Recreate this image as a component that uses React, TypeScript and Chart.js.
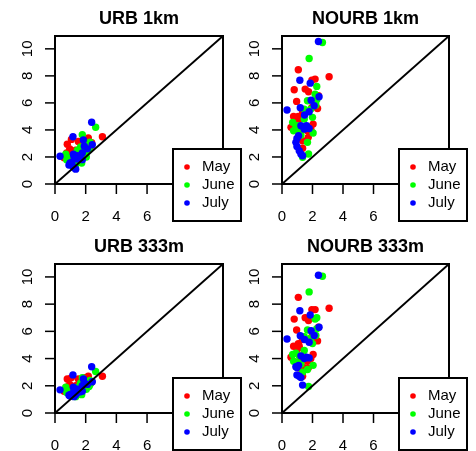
import React, { useEffect, useRef } from "react";
import { Chart, registerables } from "chart.js";
Chart.register(...registerables);

const MONTHS = ["May", "June", "July"];
const COLORS = ["#FF0000", "#00FF00", "#0000FF"];
const AXIS_TICKS = [0, 2, 4, 6, 8, 10];
const AXIS_MAX = 10.95;

// shared x values (observations) per month
const MAY_X = [1.07, 3.09, 1.96, 2.17, 0.8, 1.52, 1.74, 2.39, 0.96, 2.33, 1.35, 0.76, 1.07, 1.02, 2.04, 1.89, 1.13, 1.13, 1.35, 1.35, 1.72, 0.59, 1.13, 1.96, 1.67];
const JUNE_X = [2.65, 1.78, 2.28, 2.17, 2.28, 2.22, 1.46, 2.0, 0.7, 0.91, 2.04, 0.76, 1.02, 1.74, 1.35, 1.67, 1.46, 1.24, 1.89, 1.13, 1.67];
const JULY_X = [2.39, 1.17, 1.85, 2.43, 1.91, 0.33, 1.2, 1.78, 1.48, 1.24, 1.61, 1.78, 0.98, 0.91, 0.98, 1.13, 1.24, 1.35, 1.46, 1.09, 2.11];

// URB 1km
const URB1KM_MAY = [3.3, 3.5, 3.3, 3.4, 2.95, 3.15, 2.9, 3.05, 2.6, 2.8, 2.5, 2.3, 2.15, 2.0, 2.4, 2.1, 1.75, 1.6, 1.7, 1.5, 1.9, 1.95, 2.2, 2.6, 1.95];
const URB1KM_JUNE = [4.2, 3.65, 3.1, 3.0, 2.8, 2.6, 2.5, 2.3, 2.2, 1.9, 2.0, 1.8, 1.7, 1.55, 1.45, 2.75, 2.1, 1.6, 2.5, 2.0, 1.65];
const URB1KM_JULY = [4.57, 3.5, 3.25, 2.9, 2.8, 2.05, 2.2, 2.3, 2.1, 2.0, 1.9, 1.8, 1.55, 1.4, 1.45, 1.35, 1.2, 1.1, 1.85, 1.6, 2.6];

// NOURB 1km
const NOURB1KM_MAY = [8.45, 7.93, 7.68, 7.76, 6.97, 7.02, 6.82, 6.53, 6.11, 5.59, 5.34, 5.0, 5.0, 4.68, 4.43, 4.06, 3.82, 3.37, 3.2, 2.64, 3.45, 4.19, 4.8, 5.66, 3.94];
const NOURB1KM_JUNE = [10.47, 9.29, 7.22, 6.65, 6.23, 5.84, 5.54, 4.93, 4.56, 4.31, 3.77, 3.94, 4.06, 2.22, 1.97, 6.16, 4.8, 3.62, 5.54, 4.31, 3.08];
const NOURB1KM_JULY = [10.54, 7.68, 7.46, 6.45, 6.2, 5.47, 5.64, 5.34, 5.1, 4.31, 4.31, 4.11, 3.37, 3.08, 2.78, 2.46, 2.22, 2.09, 4.06, 3.57, 5.79];

// URB 333m
const URB333M_MAY = [2.6, 2.7, 2.6, 2.7, 2.5, 2.5, 2.4, 2.3, 2.1, 2.2, 2.0, 1.9, 1.8, 1.7, 2.0, 1.8, 1.5, 1.4, 1.45, 1.3, 1.6, 1.6, 1.8, 2.1, 1.6];
const URB333M_JUNE = [3.05, 2.6, 2.4, 2.3, 2.1, 1.95, 1.9, 1.8, 1.9, 1.6, 1.75, 1.5, 1.35, 1.35, 1.2, 2.2, 1.7, 1.3, 1.95, 1.6, 1.4];
const URB333M_JULY = [3.4, 2.8, 2.5, 2.3, 2.2, 1.7, 1.9, 2.0, 1.75, 1.6, 1.55, 1.6, 1.35, 1.3, 1.25, 1.3, 1.2, 1.35, 1.5, 1.4, 2.1];

// NOURB 333m
const NOURB333M_MAY = [8.5, 7.7, 7.6, 7.6, 6.9, 7.0, 6.8, 6.3, 6.1, 5.3, 5.4, 4.9, 5.1, 4.7, 4.3, 4.0, 3.8, 3.3, 3.4, 2.7, 3.3, 4.1, 4.9, 5.6, 3.8];
const NOURB333M_JUNE = [10.05, 8.9, 7.0, 6.9, 6.2, 5.7, 5.6, 5.1, 4.3, 4.4, 3.5, 3.8, 3.7, 1.95, 3.0, 6.1, 4.6, 3.6, 5.5, 4.2, 3.2];
const NOURB333M_JULY = [10.12, 7.51, 7.2, 6.3, 6.05, 5.44, 5.68, 5.2, 5.4, 4.2, 4.1, 4.05, 3.35, 3.4, 2.8, 2.7, 2.6, 2.05, 4.0, 3.5, 5.7];

const TITLES = ["URB 1km", "NOURB 1km", "URB 333m", "NOURB 333m"];
const SERIES_X = [MAY_X, JUNE_X, JULY_X];
const SERIES_Y = [
  [URB1KM_MAY, URB1KM_JUNE, URB1KM_JULY],
  [NOURB1KM_MAY, NOURB1KM_JUNE, NOURB1KM_JULY],
  [URB333M_MAY, URB333M_JUNE, URB333M_JULY],
  [NOURB333M_MAY, NOURB333M_JUNE, NOURB333M_JULY],
];

const W = 476;
const H = 451;
// plot boxes: left, top, right, bottom
const BOXES = [
  [55, 36, 223, 184],
  [282, 36, 449, 184],
  [55, 264, 223, 413],
  [282, 264, 449, 413],
];

const FONT = "'Liberation Sans', Arial, Helvetica, sans-serif";

const decorPlugin = (title: string) => ({
  id: "rdecor",
  afterDraw(chart: any) {
    const ctx = chart.ctx;
    const { left, top, right, bottom } = chart.chartArea;
    const xs = chart.scales.x;
    const ys = chart.scales.y;
    ctx.save();
    ctx.strokeStyle = "#000";
    ctx.fillStyle = "#000";
    ctx.lineWidth = 2;
    ctx.strokeRect(left, top, right - left, bottom - top);
    ctx.lineWidth = 1.5;
    ctx.font = `15px ${FONT}`;
    // x axis
    ctx.textAlign = "center";
    ctx.textBaseline = "middle";
    for (const t of AXIS_TICKS) {
      const px = xs.getPixelForValue(t);
      ctx.beginPath();
      ctx.moveTo(px, bottom);
      ctx.lineTo(px, bottom + 10);
      ctx.stroke();
      ctx.fillText(String(t), px, bottom + 33);
    }
    // y axis
    for (const t of AXIS_TICKS) {
      const py = ys.getPixelForValue(t);
      ctx.beginPath();
      ctx.moveTo(left - 10, py);
      ctx.lineTo(left, py);
      ctx.stroke();
      ctx.save();
      ctx.translate(left - 27, py);
      ctx.rotate(-Math.PI / 2);
      ctx.fillText(String(t), 0, 0);
      ctx.restore();
    }
    // title
    ctx.font = `bold 18px ${FONT}`;
    ctx.textBaseline = "alphabetic";
    ctx.fillText(title, (left + right) / 2, top - 12);
    // legend
    const bx = right - 50;
    const by = bottom - 35;
    const bw = 68;
    const bh = 72;
    ctx.fillStyle = "#fff";
    ctx.fillRect(bx, by, bw, bh);
    ctx.lineWidth = 2;
    ctx.strokeRect(bx, by, bw, bh);
    ctx.font = `15px ${FONT}`;
    ctx.textAlign = "left";
    ctx.textBaseline = "middle";
    MONTHS.forEach((m, i) => {
      const cy = by + 18 + i * 18;
      ctx.fillStyle = COLORS[i];
      ctx.beginPath();
      ctx.arc(bx + 14, cy, 2.8, 0, Math.PI * 2);
      ctx.fill();
      ctx.fillStyle = "#000";
      ctx.fillText(m, bx + 29, cy);
    });
    ctx.restore();
  },
});

function Panel({ index }: { index: number }) {
  const ref = useRef<HTMLCanvasElement>(null);
  useEffect(() => {
    const [l, t, r, b] = BOXES[index];
    const datasets: any[] = [
      {
        type: "line",
        data: [
          { x: 0, y: 0 },
          { x: AXIS_MAX, y: AXIS_MAX },
        ],
        borderColor: "#000",
        borderWidth: 2,
        pointRadius: 0,
        order: 0,
      },
    ];
    MONTHS.forEach((m, i) => {
      datasets.push({
        type: "scatter",
        label: m,
        data: SERIES_X[i].map((x, j) => ({ x, y: SERIES_Y[index][i][j] })),
        backgroundColor: COLORS[i],
        borderWidth: 0,
        pointRadius: 3.7,
        pointBorderWidth: 0,
        order: 3 - i,
      });
    });
    const chart = new Chart(ref.current!, {
      type: "scatter",
      data: { datasets },
      options: {
        animation: false,
        responsive: false,
        devicePixelRatio: 1,
        layout: { padding: { left: l, top: t, right: W - r, bottom: H - b } },
        plugins: { legend: { display: false }, tooltip: { enabled: false } },
        scales: {
          x: { type: "linear", min: 0, max: AXIS_MAX, display: false },
          y: { type: "linear", min: 0, max: AXIS_MAX, display: false },
        },
      },
      plugins: [decorPlugin(TITLES[index])],
    });
    return () => chart.destroy();
  }, [index]);
  return (
    <canvas
      ref={ref}
      width={W}
      height={H}
      style={{ position: "absolute", left: 0, top: 0, width: W, height: H, display: "block" }}
    />
  );
}

export default function App() {
  return (
    <div style={{ position: "fixed", left: 0, top: 0, width: W, height: H, background: "#fff" }}>
      {TITLES.map((_, i) => (
        <Panel key={i} index={i} />
      ))}
    </div>
  );
}
